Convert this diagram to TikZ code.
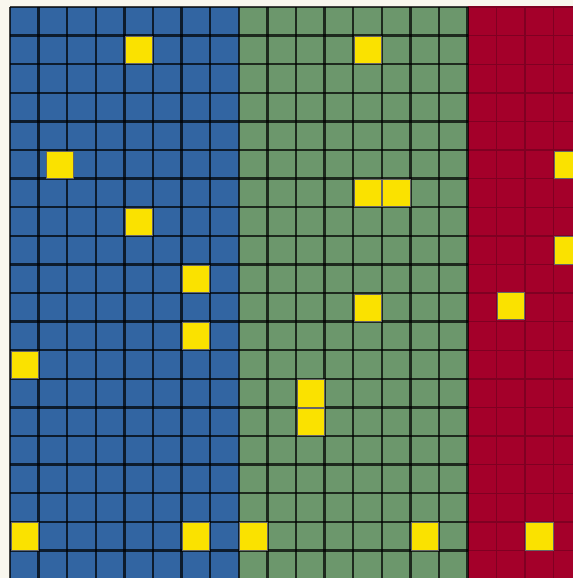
\documentclass[tikz,border=0pt]{standalone}

\definecolor{blueblock}{RGB}{50,101,162}
\definecolor{greenblock}{RGB}{108,151,108}
\definecolor{redblock}{RGB}{164,0,42}
\definecolor{redline}{RGB}{128,0,34}
\definecolor{goldcell}{RGB}{250,226,0}
\definecolor{paper}{RGB}{249,247,238}

\begin{document}
\begin{tikzpicture}[
    x=1cm, y=-1cm,
    gridln/.style={draw=black, draw opacity=0.72, line width=2.3pt},
    redln/.style={draw=redline, line width=1.4pt},
    gold/.style={fill=goldcell, draw=black!60, line width=0.5pt},
  ]
    \useasboundingbox (-0.35,-0.245) rectangle (19.685,19.965);
    \clip (-0.35,-0.245) rectangle (19.685,19.965);
    \fill[paper] (-0.35,-0.245) rectangle (19.685,19.965);

    % Bloklar (soldan saga)
    \fill[blueblock]  (0,0)  rectangle (8,20);
    \fill[greenblock] (8,0)  rectangle (16,20);
    \fill[redblock]   (16,0) rectangle (20,20);

    % Izgara
    \foreach \i in {17,...,20}
      \draw[redln] (\i,0) -- (\i,20);
    \foreach \j in {0,...,20}
      \draw[redln] (16,\j) -- (20,\j);
    \foreach \i in {0,...,16}
      \draw[gridln] (\i,0) -- (\i,20);
    \foreach \j in {0,...,20}
      \draw[gridln] (0,\j) -- (16,\j);

    % Sari hucreler (sutun/satir)
    \foreach \c/\r in {4/1, 12/1, 1.22/5, 19/5, 12/6, 13/6, 4/7, 19/8,
                       6/9, 12/10, 17/9.93, 6/11, 0/12, 10/13, 10/14,
                       0/18, 6/18, 8/18, 14/18, 18/18}
      \filldraw[gold] (\c+0.03,\r+0.03) rectangle ++(0.95,0.95);
  \end{tikzpicture}
\end{document}
